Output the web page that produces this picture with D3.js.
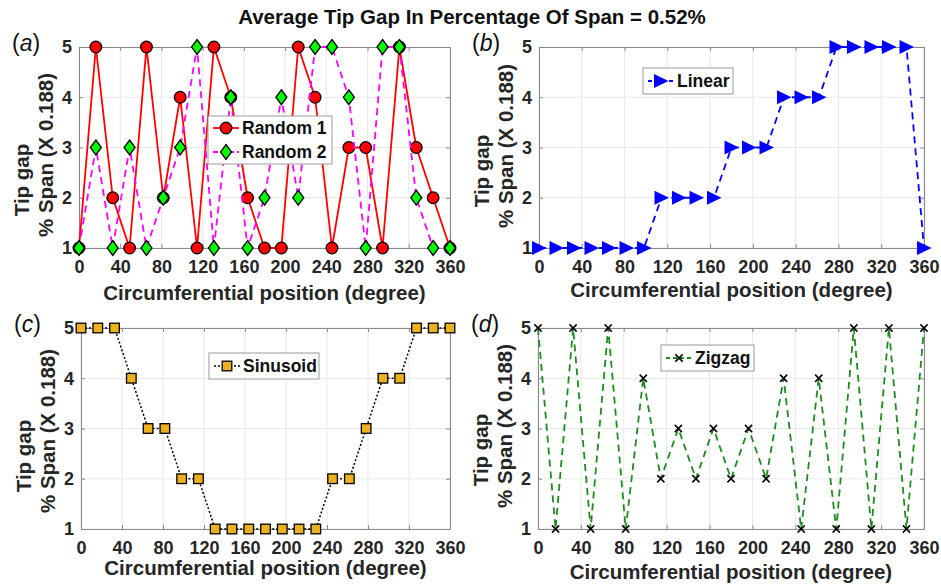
<!DOCTYPE html>
<html>
<head>
<meta charset="utf-8">
<script src="https://cdn.jsdelivr.net/npm/d3@7"></script>
<style>
  body { margin: 0; background: #fff; }
  svg text { font-family: "Liberation Sans", Arial, Helvetica, sans-serif; }
</style>
</head>
<body>
<svg id="fig" width="941" height="586"></svg>
<script>
// Circumferential blade positions (degrees): 23 evenly spaced stations
const positions = d3.range(23).map(i => i * 360 / 22);
const xTicks = [0, 40, 80, 120, 160, 200, 240, 280, 320, 360];
const yTicks = [1, 2, 3, 4, 5];

// Tip gap levels (multiples of 0.188 % span)
const random1  = [1,5,2,1,5,2,4,1,5,4,2,1,1,5,4,1,3,3,1,5,3,2,1];
const random2  = [1,3,1,3,1,2,3,5,1,4,1,2,4,2,5,5,4,1,5,5,2,1,1];
const linear   = [1,1,1,1,1,1,1,2,2,2,2,3,3,3,4,4,4,5,5,5,5,5,1];
const sinusoid = [5,5,5,4,3,3,2,2,1,1,1,1,1,1,1,2,2,3,4,4,5,5,5];
const zigzag   = [5,1,5,1,5,1,4,2,3,2,3,2,3,2,4,1,4,1,5,1,5,1,5];

const svg = d3.select("#fig");
const axisColor = "#8a8a8a";
const textColor = "#262626";

svg.append("text")
  .attr("x", 472).attr("y", 24)
  .attr("text-anchor", "middle")
  .attr("font-weight", "bold").attr("font-size", 20.5)
  .attr("fill", "#111")
  .text("Average Tip Gap In Percentage Of Span = 0.52%");

// marker painters
function drawMarker(g, type, x, y) {
  if (type === "circle") {
    g.append("circle").attr("cx", x).attr("cy", y).attr("r", 5.8)
      .attr("fill", "#ff0000").attr("stroke", "#000").attr("stroke-width", 1.3);
  } else if (type === "diamond") {
    g.append("path").attr("d", `M${x},${y-7.5}L${x+5.5},${y}L${x},${y+7.5}L${x-5.5},${y}Z`)
      .attr("fill", "#00ff00").attr("stroke", "#000").attr("stroke-width", 1.3);
  } else if (type === "triangle") {
    g.append("path").attr("d", `M${x-7},${y-7}L${x+7.5},${y}L${x-7},${y+7}Z`)
      .attr("fill", "#0000ff");
  } else if (type === "square") {
    g.append("rect").attr("x", x - 4.8).attr("y", y - 4.8).attr("width", 9.6).attr("height", 9.6)
      .attr("fill", "#edb120").attr("stroke", "#000").attr("stroke-width", 1.3);
  } else if (type === "x") {
    const s = 3.6;
    g.append("path").attr("d", `M${x-s},${y-s}L${x+s},${y+s}M${x-s},${y+s}L${x+s},${y-s}`)
      .attr("stroke", "#000").attr("stroke-width", 1.5).attr("fill", "none");
  }
}

function drawPanel(p) {
  const x = d3.scaleLinear().domain([0, 360]).range([p.left, p.right]);
  const y = d3.scaleLinear().domain([1, 5]).range([p.bottom, p.top]);
  const g = svg.append("g");

  // grid
  g.append("g").selectAll("line").data(xTicks).join("line")
    .attr("x1", d => x(d)).attr("x2", d => x(d)).attr("y1", p.top).attr("y2", p.bottom)
    .attr("stroke", "#e8e8e8").attr("stroke-width", 1);
  g.append("g").selectAll("line").data(yTicks).join("line")
    .attr("x1", p.left).attr("x2", p.right).attr("y1", d => y(d)).attr("y2", d => y(d))
    .attr("stroke", "#e8e8e8").attr("stroke-width", 1);

  // axes with inward ticks, box on
  const ax = g.append("g").attr("transform", `translate(0,${p.bottom})`)
    .call(d3.axisBottom(x).tickValues(xTicks).tickSizeInner(-4).tickSizeOuter(0).tickPadding(12));
  const axTop = g.append("g").attr("transform", `translate(0,${p.top})`)
    .call(d3.axisTop(x).tickValues(xTicks).tickSizeInner(-4).tickSizeOuter(0).tickFormat(""));
  const ay = g.append("g").attr("transform", `translate(${p.left},0)`)
    .call(d3.axisLeft(y).tickValues(yTicks).tickFormat(d3.format("d"))
      .tickSizeInner(-4).tickSizeOuter(0).tickPadding(7));
  const ayR = g.append("g").attr("transform", `translate(${p.right},0)`)
    .call(d3.axisRight(y).tickValues(yTicks).tickSizeInner(-4).tickSizeOuter(0).tickFormat(""));
  [ax, axTop, ay, ayR].forEach(a => {
    a.select(".domain").attr("stroke", axisColor).attr("stroke-width", 1.1);
    a.selectAll(".tick line").attr("stroke", axisColor);
    a.selectAll("text").attr("font-size", 18).attr("font-weight", "bold")
      .attr("fill", textColor).attr("font-family", "Liberation Sans, Arial, sans-serif");
  });

  // axis titles
  g.append("text")
    .attr("x", (p.left + p.right) / 2).attr("y", p.bottom + p.xlab + 7)
    .attr("text-anchor", "middle").attr("font-weight", "bold").attr("font-size", 20.5)
    .attr("fill", textColor).text("Circumferential position (degree)");
  const ylab = [["Tip gap", -50, p.yl1], ["% Span (X 0.188)", -26, p.yl2]];
  ylab.forEach(([t, dx, dy]) => {
    g.append("text")
      .attr("transform", `translate(${p.left + dx},${p.top + dy}) rotate(-90)`)
      .attr("text-anchor", "middle").attr("font-weight", "bold").attr("font-size", 20.5)
      .attr("fill", textColor).text(t);
  });

  // panel letter
  const pl = g.append("text").attr("x", p.left - 67).attr("y", p.top + 4)
    .attr("font-size", 23).attr("fill", "#111");
  pl.append("tspan").text("(");
  pl.append("tspan").attr("font-style", "italic").text(p.letter);
  pl.append("tspan").text(")");

  // series
  p.series.forEach(s => {
    const line = d3.line().x((d, i) => x(positions[i])).y(d => y(d));
    g.append("path").datum(s.values).attr("d", line)
      .attr("fill", "none").attr("stroke", s.color).attr("stroke-width", s.width)
      .attr("stroke-dasharray", s.dash || null)
      .attr("stroke-linejoin", "round");
    const mg = g.append("g");
    s.values.forEach((v, i) => drawMarker(mg, s.marker, x(positions[i]), y(v)));
  });

  // legend
  const L = p.legend;
  const lg = g.append("g");
  lg.append("rect").attr("x", L.x).attr("y", L.y).attr("width", L.w).attr("height", L.h)
    .attr("fill", "#fff").attr("stroke", "#9a9a9a").attr("stroke-width", 1);
  p.series.forEach((s, k) => {
    const cy = L.y + L.h / (p.series.length * 2) * (2 * k + 1);
    lg.append("line").attr("x1", L.x + 5).attr("x2", L.x + 31).attr("y1", cy).attr("y2", cy)
      .attr("stroke", s.color).attr("stroke-width", s.width)
      .attr("stroke-dasharray", s.legendDash || s.dash || null);
    drawMarker(lg, s.marker, L.x + 18, cy);
    lg.append("text").attr("x", L.x + 34).attr("y", cy).attr("dy", "0.36em")
      .attr("font-weight", "bold").attr("font-size", 17.5).attr("fill", "#111")
      .text(s.name);
  });
}

drawPanel({
  letter: "a", left: 79, right: 450, top: 47, bottom: 248,
  xlab: 45, yl1: 133, yl2: 108,
  legend: { x: 208, y: 116, w: 124, h: 48 },
  series: [
    { name: "Random 1", values: random1, color: "#ff0000", width: 1.8, marker: "circle" },
    { name: "Random 2", values: random2, color: "#ff00ff", width: 1.8, dash: "7,5", legendDash: "5,3", marker: "diamond" }
  ]
});
drawPanel({
  letter: "b", left: 539, right: 924, top: 47, bottom: 248,
  xlab: 42, yl1: 124, yl2: 99,
  legend: { x: 643, y: 68, w: 90, h: 26 },
  series: [
    { name: "Linear", values: linear, color: "#0000ff", width: 1.8, dash: "7,5", legendDash: "4,3", marker: "triangle" }
  ]
});
drawPanel({
  letter: "c", left: 81, right: 450, top: 328, bottom: 529,
  xlab: 39, yl1: 128, yl2: 103,
  legend: { x: 209, y: 353, w: 110, h: 26 },
  series: [
    { name: "Sinusoid", values: sinusoid, color: "#000000", width: 1.5, dash: "2,2", marker: "square" }
  ]
});
drawPanel({
  letter: "d", left: 538, right: 924, top: 328, bottom: 529,
  xlab: 43, yl1: 122, yl2: 98,
  legend: { x: 661, y: 345, w: 93, h: 26 },
  series: [
    { name: "Zigzag", values: zigzag, color: "#1f8a1f", width: 1.8, dash: "7,5", legendDash: "4,3", marker: "x" }
  ]
});
</script>
</body>
</html>
